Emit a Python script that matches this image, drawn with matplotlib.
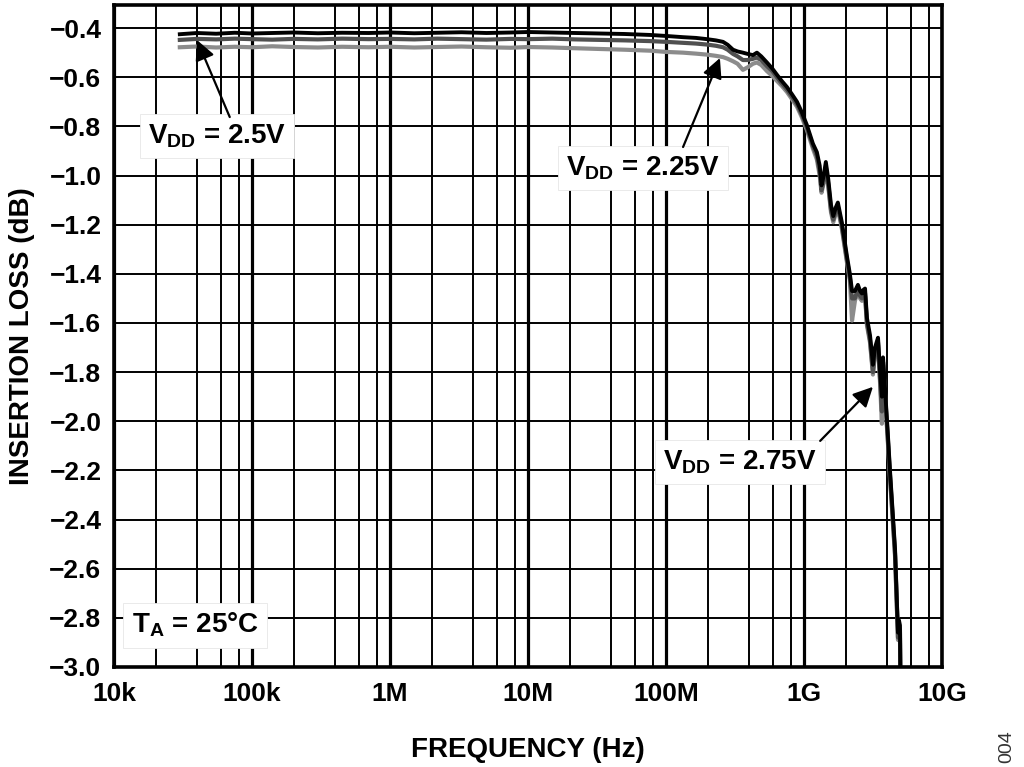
import matplotlib
matplotlib.use("Agg")
import matplotlib.pyplot as plt
from matplotlib.ticker import FixedLocator, NullFormatter

plt.rcParams["font.family"] = ["Liberation Sans", "DejaVu Sans"]
plt.rcParams["font.weight"] = "bold"
plt.rcParams["mathtext.fontset"] = "custom"
plt.rcParams["mathtext.rm"] = "Liberation Sans:bold"
plt.rcParams["mathtext.it"] = "Liberation Sans:bold"
plt.rcParams["mathtext.bf"] = "Liberation Sans:bold"

# %% data
freq_hz = [
    3.0e4, 4.0e4, 5.5e4, 7.5e4, 1.0e5, 1.4e5, 2.0e5, 3.0e5, 4.5e5, 7.0e5,
    1.0e6, 1.5e6, 2.2e6, 3.3e6, 5.0e6, 7.5e6, 1.0e7, 1.5e7, 2.2e7, 3.3e7,
    5.0e7, 7.7e7, 1.0e8, 1.33e8, 1.65e8, 1.98e8, 2.3e8, 2.59e8, 2.8e8, 3.06e8,
    3.3e8, 3.61e8, 3.9e8, 4.27e8, 4.56e8, 4.9e8, 5.39e8, 5.9e8, 6.37e8, 6.9e8,
    7.53e8, 8.2e8, 8.9e8, 9.6e8, 1.05e9, 1.16e9, 1.24e9, 1.30e9, 1.34e9, 1.39e9,
    1.44e9, 1.50e9, 1.57e9, 1.63e9, 1.70e9, 1.76e9, 1.88e9, 2.05e9, 2.15e9, 2.23e9,
    2.34e9, 2.46e9, 2.55e9, 2.63e9, 2.70e9, 2.77e9, 2.86e9, 3.01e9, 3.16e9, 3.27e9,
    3.44e9, 3.55e9, 3.67e9, 3.74e9, 3.86e9, 4.06e9, 4.20e9, 4.57e9, 4.80e9, 4.88e9,
    4.96e9, 5.0e9,
]

loss_275 = [
    -0.425, -0.420, -0.423, -0.419, -0.422, -0.420, -0.418, -0.421, -0.419, -0.420,
    -0.418, -0.421, -0.419, -0.417, -0.420, -0.418, -0.416, -0.418, -0.420, -0.422,
    -0.424, -0.428, -0.432, -0.437, -0.440, -0.445, -0.450, -0.456, -0.468, -0.488,
    -0.495, -0.500, -0.505, -0.510, -0.500, -0.515, -0.540, -0.565, -0.590, -0.615,
    -0.640, -0.670, -0.700, -0.740, -0.795, -0.870, -0.905, -0.960, -1.040, -1.000,
    -0.945, -1.015, -1.120, -1.165, -1.130, -1.110, -1.190, -1.330, -1.400, -1.470,
    -1.470, -1.445, -1.470, -1.480, -1.465, -1.460, -1.580, -1.650, -1.770, -1.700,
    -1.660, -1.790, -1.900, -1.740, -1.860, -2.060, -2.200, -2.520, -2.860, -2.810,
    -2.830, -3.050,
]

loss_250 = [
    -0.448, -0.444, -0.446, -0.443, -0.445, -0.447, -0.444, -0.446, -0.443, -0.445,
    -0.444, -0.446, -0.443, -0.445, -0.447, -0.444, -0.445, -0.443, -0.446, -0.448,
    -0.450, -0.453, -0.456, -0.460, -0.463, -0.467, -0.472, -0.478, -0.488, -0.505,
    -0.515, -0.530, -0.530, -0.525, -0.520, -0.530, -0.555, -0.575, -0.600, -0.625,
    -0.650, -0.680, -0.710, -0.750, -0.805, -0.880, -0.920, -0.985, -1.060, -1.020,
    -0.965, -1.035, -1.140, -1.180, -1.145, -1.125, -1.205, -1.345, -1.415, -1.500,
    -1.500, -1.460, -1.490, -1.500, -1.480, -1.480, -1.600, -1.670, -1.800, -1.720,
    -1.680, -1.820, -1.960, -1.760, -1.880, -2.080, -2.220, -2.540, -2.880, -2.830,
    -2.850, -3.050,
]

loss_225 = [
    -0.478, -0.475, -0.479, -0.476, -0.478, -0.474, -0.477, -0.479, -0.476, -0.478,
    -0.476, -0.479, -0.477, -0.475, -0.478, -0.480, -0.477, -0.479, -0.482, -0.485,
    -0.488, -0.492, -0.497, -0.500, -0.504, -0.508, -0.513, -0.518, -0.525, -0.535,
    -0.545, -0.570, -0.560, -0.545, -0.540, -0.550, -0.575, -0.595, -0.615, -0.635,
    -0.660, -0.690, -0.720, -0.760, -0.815, -0.890, -0.935, -1.000, -1.070, -1.030,
    -0.975, -1.045, -1.150, -1.190, -1.155, -1.135, -1.215, -1.355, -1.425, -1.590,
    -1.510, -1.470, -1.500, -1.510, -1.490, -1.490, -1.610, -1.680, -1.810, -1.730,
    -1.690, -1.830, -2.010, -1.770, -1.890, -2.090, -2.230, -2.550, -2.890, -2.840,
    -2.860, -3.050,
]

x_ticks = [1e4, 1e5, 1e6, 1e7, 1e8, 1e9, 1e10]
x_tick_labels = ["10k", "100k", "1M", "10M", "100M", "1G", "10G"]
y_ticks = [-3.0, -2.8, -2.6, -2.4, -2.2, -2.0, -1.8, -1.6, -1.4, -1.2,
           -1.0, -0.8, -0.6, -0.4]
y_tick_labels = [f"{v:.1f}".replace("-", "\u2212") for v in y_ticks]

# %% figure
fig = plt.figure(figsize=(10.24, 7.67), dpi=100)
ax = fig.add_axes([0.1113, 0.1304, 0.8086, 0.8631])

ax.plot(freq_hz, loss_225, color="#8c8c8c", lw=3.0, zorder=3)
ax.plot(freq_hz, loss_250, color="#505050", lw=3.0, zorder=4)
ax.plot(freq_hz, loss_275, color="black", lw=2.8, zorder=5)

ax.set_xscale("log")
ax.set_xlim(1e4, 1e10)
ax.set_ylim(-3.0, -0.306)

# grid: decade lines thick, minor only at 2,4,6,8
minor_x = [m * 10.0 ** d for d in range(4, 10) for m in (2, 4, 6, 8)]
ax.xaxis.set_major_locator(FixedLocator(x_ticks))
ax.xaxis.set_minor_locator(FixedLocator(minor_x))
ax.xaxis.set_minor_formatter(NullFormatter())
ax.set_xticklabels(x_tick_labels)
ax.set_yticks(y_ticks)
ax.set_yticklabels(y_tick_labels)

ax.grid(True, which="major", axis="x", color="black", lw=2.3, zorder=1)
ax.grid(True, which="minor", axis="x", color="black", lw=1.4, zorder=1)
ax.grid(True, which="major", axis="y", color="black", lw=1.4, zorder=1)
ax.set_axisbelow(True)

ax.tick_params(which="both", length=0)
ax.tick_params(axis="x", pad=11, labelsize=19)
ax.tick_params(axis="y", pad=9, labelsize=19)
for lab in ax.get_xticklabels() + ax.get_yticklabels():
    lab.set_fontweight("bold")

for sp in ax.spines.values():
    sp.set_linewidth(2.6)
    sp.set_zorder(6)

ax.set_xlabel("FREQUENCY (Hz)", fontsize=20, fontweight="bold", labelpad=22)
ax.set_ylabel("INSERTION LOSS (dB)", fontsize=20, fontweight="bold", labelpad=10)

# %% annotations
box = dict(boxstyle="square,pad=0.3", fc="white", ec="#e6e6e6", lw=0.6)
txt_kw = dict(fontsize=20, fontweight="bold", ha="center", va="center",
              bbox=box, zorder=7)
arrow = dict(arrowstyle="-|>", mutation_scale=30, lw=1.6, color="black",
             shrinkA=0, shrinkB=0)

ax.annotate("", xy=(4.0e4, -0.449), xytext=(6.9e4, -0.762),
            arrowprops=arrow, zorder=8)
ax.text(5.57e4, -0.839, r"V$_{\mathrm{DD}}$ = 2.5V", **txt_kw)

ax.annotate("", xy=(2.46e8, -0.522), xytext=(1.33e8, -0.884),
            arrowprops=arrow, zorder=8)
ax.text(6.8e7, -0.97, r"V$_{\mathrm{DD}}$ = 2.25V", **txt_kw)

ax.annotate("", xy=(3.16e9, -1.86), xytext=(1.31e9, -2.08),
            arrowprops=arrow, zorder=8)
ax.text(3.44e8, -2.166, r"V$_{\mathrm{DD}}$ = 2.75V", **txt_kw)

ax.text(3.86e4, -2.83, r"T$_{\mathrm{A}}$ = 25°C", **txt_kw)

fig.text(0.983, 0.026, "004", rotation=90, fontsize=14, fontweight="normal",
         color="#333333", ha="center", va="center")

fig.savefig("out.png", dpi=100)
